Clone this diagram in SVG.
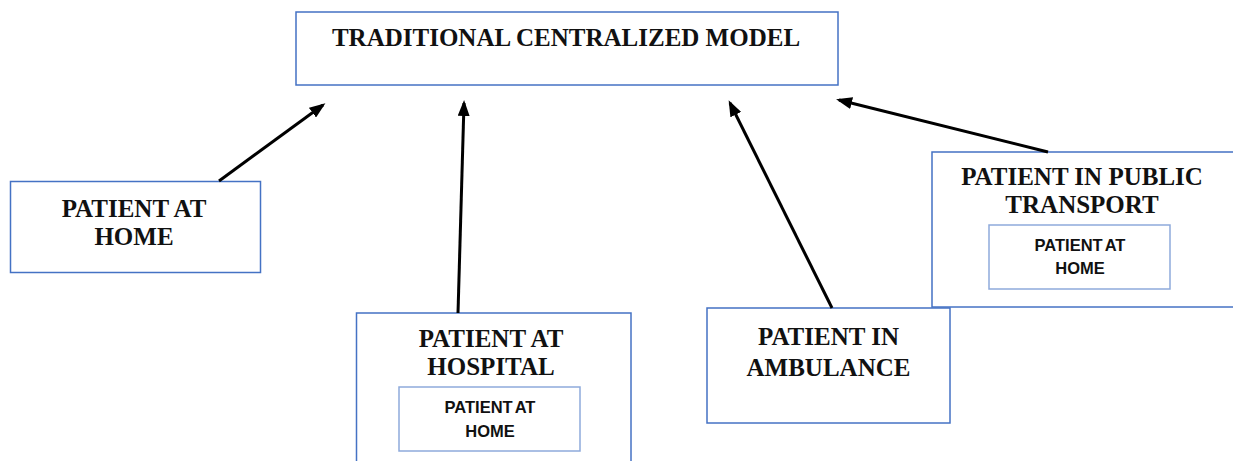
<svg xmlns="http://www.w3.org/2000/svg" width="1233" height="461" viewBox="0 0 1233 461">
<style>
.box{fill:#fff;stroke:#4472c4;stroke-width:1.5}
.inner{fill:#fff;stroke:#8eaadb;stroke-width:1.5}
.t{font-family:"Liberation Serif","Times New Roman",serif;font-weight:bold;font-size:25px;fill:#111;text-anchor:middle}
.s{font-family:"Liberation Sans",Arial,sans-serif;font-weight:bold;font-size:16.5px;fill:#111;text-anchor:middle;word-spacing:-2px}
.c{stroke:#000;stroke-width:3;fill:none;marker-end:url(#ah)}
</style>
<defs>
<marker id="ah" viewBox="0 0 16 12" refX="13" refY="6" markerWidth="16" markerHeight="12" markerUnits="userSpaceOnUse" orient="auto">
<path d="M0,0 L16,6 L0,12 z" fill="#000"/>
</marker>
</defs>
<rect width="1233" height="461" fill="#fff"/>
<g id="central">
<rect class="box" x="296" y="12" width="542" height="73"/>
<text class="t" x="566" y="46">TRADITIONAL CENTRALIZED MODEL</text>
</g>
<g id="home">
<rect class="box" x="10.5" y="181.5" width="250" height="91"/>
<text class="t" x="134" y="217">PATIENT AT</text>
<text class="t" x="134" y="245">HOME</text>
</g>
<g id="hospital">
<rect class="box" x="356.5" y="313" width="274.5" height="160"/>
<text class="t" x="491" y="347">PATIENT AT</text>
<text class="t" x="491" y="375">HOSPITAL</text>
<g id="hospital-inner">
<rect class="inner" x="399" y="387" width="181" height="64"/>
<text class="s" x="490" y="413">PATIENT AT</text>
<text class="s" x="490" y="437">HOME</text>
</g>
</g>
<g id="ambulance">
<rect class="box" x="707" y="308" width="243" height="115"/>
<text class="t" x="828.5" y="345">PATIENT IN</text>
<text class="t" x="828.5" y="376">AMBULANCE</text>
</g>
<g id="transport">
<rect class="box" x="932" y="152" width="320" height="155"/>
<text class="t" x="1082" y="185">PATIENT IN PUBLIC</text>
<text class="t" x="1082" y="213">TRANSPORT</text>
<g id="transport-inner">
<rect class="inner" x="989" y="225" width="181" height="64"/>
<text class="s" x="1080" y="251">PATIENT AT</text>
<text class="s" x="1080" y="274">HOME</text>
</g>
</g>
<g id="connectors">
<line class="c" x1="219" y1="181" x2="323" y2="105"/>
<line class="c" x1="458" y1="313" x2="464" y2="103"/>
<line class="c" x1="832" y1="308" x2="730" y2="103"/>
<line class="c" x1="1048" y1="152" x2="839" y2="100"/>
</g>
</svg>
